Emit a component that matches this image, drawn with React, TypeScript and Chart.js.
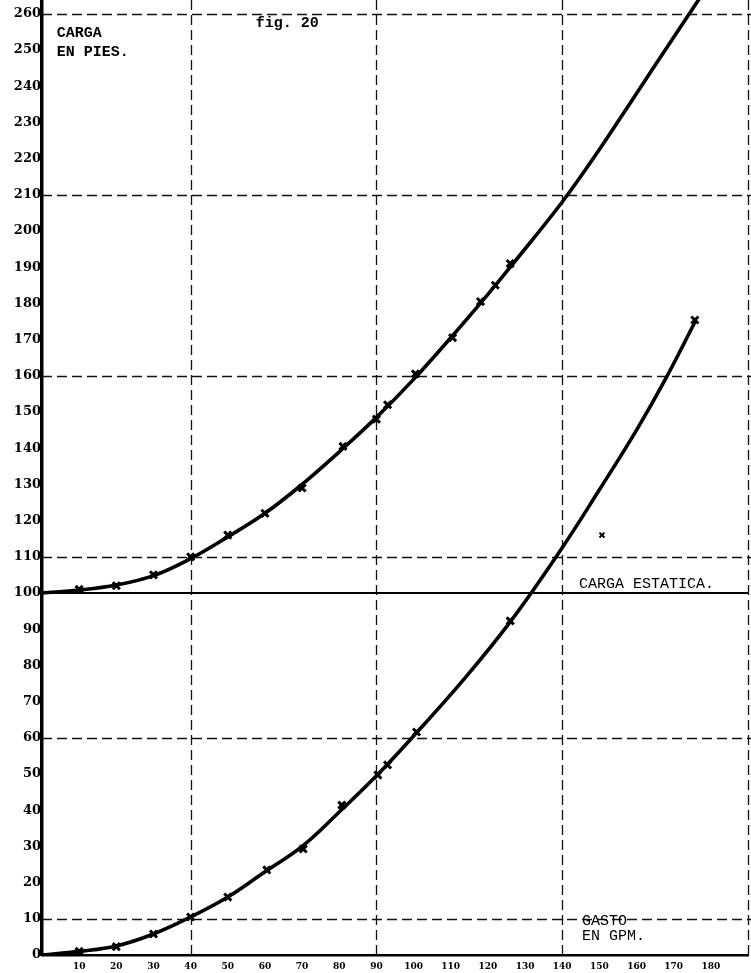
import React, { useEffect, useRef } from 'react';
import { Chart, registerables } from 'chart.js';

Chart.register(...registerables);

// ---- tick labels / grid ----
const xTickLabels = [10, 20, 30, 40, 50, 60, 70, 80, 90, 100, 110, 120, 130, 140, 150, 160, 170, 180];
const yTickLabels = [0, 10, 20, 30, 40, 50, 60, 70, 80, 90, 100, 110, 120, 130, 140, 150, 160, 170, 180, 190, 200, 210, 220, 230, 240, 250, 260];
const gridX = [40, 90, 140, 190];
const gridY = [10, 60, 110, 160, 210, 260];

// ---- upper curve: total head (carga en pies) vs flow (gasto en GPM) ----
// plotted test points (x marks)
const totalHeadMarkGpm = [10, 20, 30, 40, 50, 60, 70, 81, 90, 93, 100.5, 110.5, 118, 122, 126];
const totalHeadMarkFt = [101, 102, 105, 110, 116, 122, 129, 140.5, 148, 152, 160.5, 170.5, 180.5, 185, 191];
// hand-drawn smooth curve
const totalHeadCurveGpm = [0, 10, 20, 30, 40, 50, 60, 70, 80, 90, 100, 110, 120, 126, 140, 150, 160, 170, 182];
const totalHeadCurveFt = [100, 100.8, 102.2, 104.8, 109.5, 115.5, 122, 130, 139, 148.5, 159, 170.5, 182.5, 190, 208, 222.5, 238, 253.5, 272];

// ---- lower curve: friction head ----
const frictionMarkGpm = [10, 20, 30, 40, 50, 60.5, 70.3, 80.7, 90.4, 93, 100.8, 126, 175.7];
const frictionMarkFt = [1, 2.3, 5.8, 10.5, 16, 23.5, 29.3, 41.4, 49.7, 52.5, 61.6, 92.3, 175.4];
const frictionCurveGpm = [0, 10, 20, 30, 40, 50, 60, 70, 80, 90, 100, 113, 126, 140, 150, 160, 168, 176];
const frictionCurveFt = [0, 1, 2.5, 5.8, 10.5, 16, 23, 30, 39.5, 49.5, 60.5, 75.5, 92, 112.5, 128.5, 145, 159.5, 175.4];

// ---- isolated mark ----
const strayGpm = [150.7];
const strayFt = [116];

// ---- static head line ----
const staticHeadGpm = [0, 190];
const staticHeadFt = [100, 100];

const toPts = (xs: number[], ys: number[]) => xs.map((x, i) => ({ x, y: ys[i] }));

const TYPE = '"Liberation Mono", "DejaVu Sans Mono", monospace';
const NUM = '"DejaVu Serif", "Liberation Serif", serif';

const paperPlugin = {
  id: 'paper',
  beforeDraw(chart: any) {
    const { ctx, width, height } = chart;
    ctx.save();
    ctx.fillStyle = '#ffffff';
    ctx.fillRect(0, 0, width, height);
    ctx.restore();
  },
  beforeDatasetsDraw(chart: any) {
    const { ctx, chartArea, scales } = chart;
    const xs = scales.x;
    const ys = scales.y;
    ctx.save();
    ctx.strokeStyle = '#111';
    ctx.lineWidth = 1.3;
    ctx.setLineDash([10, 5]);
    gridX.forEach((v) => {
      const px = Math.min(Math.round(xs.getPixelForValue(v)) + 0.5, chart.width - 2);
      ctx.beginPath();
      ctx.moveTo(px, 0);
      ctx.lineTo(px, chartArea.bottom);
      ctx.stroke();
    });
    gridY.forEach((v) => {
      const py = Math.round(ys.getPixelForValue(v)) + 0.5;
      ctx.beginPath();
      ctx.moveTo(chartArea.left, py);
      ctx.lineTo(chart.width, py);
      ctx.stroke();
    });
    ctx.restore();
  },
  afterDraw(chart: any) {
    const { ctx, scales } = chart;
    const xs = scales.x;
    const ys = scales.y;
    ctx.save();
    ctx.fillStyle = '#000';
    ctx.textAlign = 'left';
    ctx.textBaseline = 'middle';
    ctx.font = `bold 15px ${TYPE}`;
    ctx.fillText('fig. 20', xs.getPixelForValue(57.5), ys.getPixelForValue(257.5));
    ctx.fillText('CARGA', xs.getPixelForValue(4), ys.getPixelForValue(254.5));
    ctx.fillText('EN PIES.', xs.getPixelForValue(4), ys.getPixelForValue(249.5));
    ctx.font = `15px ${TYPE}`;
    ctx.textBaseline = 'bottom';
    ctx.fillText('CARGA ESTATICA.', xs.getPixelForValue(144.5), ys.getPixelForValue(100) - 1);
    ctx.textBaseline = 'middle';
    ctx.fillText('GASTO', xs.getPixelForValue(145.3), ys.getPixelForValue(9.3));
    ctx.fillText('EN GPM.', xs.getPixelForValue(145.3), ys.getPixelForValue(5.2));
    ctx.restore();
  },
};

export default function App() {
  const ref = useRef<HTMLCanvasElement | null>(null);

  useEffect(() => {
    document.body.style.margin = '0';
    const canvas = ref.current;
    if (!canvas) return;

    const lineStyle = {
      showLine: true,
      borderColor: '#000',
      backgroundColor: '#000',
      borderWidth: 3.6,
      pointRadius: 0,
      pointHoverRadius: 0,
      tension: 0.4,
      fill: false,
    };
    const markStyle = {
      showLine: false,
      borderColor: '#000',
      backgroundColor: '#000',
      pointStyle: 'crossRot' as const,
      pointRadius: 5,
      pointBorderWidth: 3,
    };

    const chart = new Chart(canvas, {
      type: 'scatter',
      data: {
        datasets: [
          { label: 'Carga estática', data: toPts(staticHeadGpm, staticHeadFt), showLine: true, borderColor: '#000', borderWidth: 2.2, pointRadius: 0, clip: 4 } as any,
          { label: 'Carga total', data: toPts(totalHeadCurveGpm, totalHeadCurveFt), ...lineStyle, clip: 10 } as any,
          { label: 'Carga total (puntos)', data: toPts(totalHeadMarkGpm, totalHeadMarkFt), ...markStyle } as any,
          { label: 'Fricción', data: toPts(frictionCurveGpm, frictionCurveFt), ...lineStyle } as any,
          { label: 'Fricción (puntos)', data: toPts(frictionMarkGpm, frictionMarkFt), ...markStyle } as any,
          { label: 'Punto aislado', data: toPts(strayGpm, strayFt), ...markStyle, pointRadius: 3.5, pointBorderWidth: 2 } as any,
        ],
      },
      options: {
        responsive: false,
        animation: false,
        events: [],
        layout: { autoPadding: false, padding: { top: 0, right: 3, left: 0, bottom: 0 } },
        plugins: { legend: { display: false }, tooltip: { enabled: false }, title: { display: false } },
        scales: {
          x: {
            type: 'linear',
            min: 0,
            max: 190,
            grid: { display: false, drawTicks: false },
            border: { display: true, color: '#000', width: 2.5 },
            afterBuildTicks: (s: any) => {
              s.ticks = xTickLabels.map((v) => ({ value: v }));
            },
            afterFit: (s: any) => {
              s.height = 18;
              s.paddingLeft = 0;
              s.paddingRight = 0;
            },
            ticks: {
              autoSkip: false,
              maxRotation: 0,
              padding: 6,
              color: '#000',
              font: { family: NUM, size: 9, weight: 'bold' },
            },
          },
          y: {
            type: 'linear',
            min: 0,
            max: 263.8,
            grid: { display: false, drawTicks: false },
            border: { display: true, color: '#000', width: 3.5 },
            afterBuildTicks: (s: any) => {
              s.ticks = yTickLabels.map((v) => ({ value: v }));
            },
            afterFit: (s: any) => {
              s.width = 42;
              s.paddingTop = 0;
              s.paddingBottom = 0;
            },
            ticks: {
              autoSkip: false,
              padding: 1,
              color: '#000',
              font: { family: NUM, size: 13, weight: 'bold' },
            },
          },
        },
      } as any,
      plugins: [paperPlugin],
    });

    return () => chart.destroy();
  }, []);

  return (
    <div style={{ position: 'absolute', left: 0, top: 0, width: 751, height: 973, background: '#fff' }}>
      <canvas ref={ref} width={751} height={973} style={{ display: 'block', width: 751, height: 973 }} />
    </div>
  );
}
